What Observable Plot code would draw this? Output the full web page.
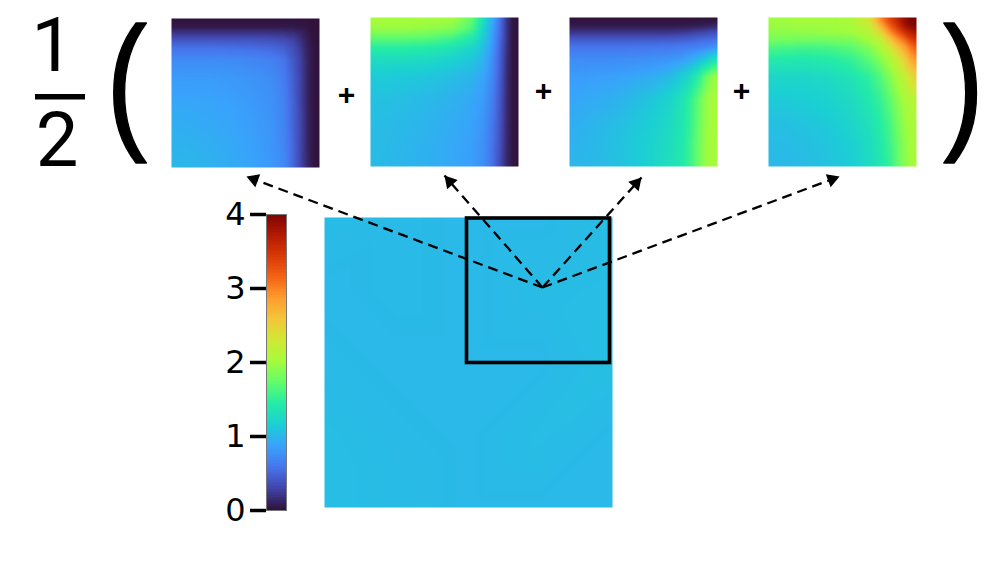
<!DOCTYPE html>
<html>
<head>
<meta charset="utf-8">
<script src="https://cdn.jsdelivr.net/npm/d3@7"></script>
<script src="https://cdn.jsdelivr.net/npm/@observablehq/plot@0.6"></script>
<style>
html,body{margin:0;padding:0;background:#fff;}
#page{position:relative;width:997px;height:565px;overflow:hidden;}
#page svg{position:absolute;display:block;overflow:visible;}
</style>
</head>
<body>
<div id="page"></div>
<script>
const gridU = [0,.1,.25,.4,.55,.68,.76,.82,.87,.92,.96,1];
const gridV = [0,.03,.06,.1,.15,.2,.28,.4,.55,.7,.85,1];
const panelA = [
[0,0,0,0,0,0,0,0,0,0,0,0],
[.02,.02,.02,.02,.02,.02,.02,.02,.02,.01,0,0],
[.05,.05,.05,.05,.05,.05,.05,.05,.04,.02,0,0],
[.2,.2,.2,.2,.2,.2,.19,.17,.12,.05,0,0],
[.4,.4,.4,.4,.39,.37,.34,.28,.18,.07,.01,0],
[.56,.56,.56,.55,.53,.5,.45,.35,.23,.09,.02,0],
[.72,.72,.72,.71,.69,.65,.57,.41,.27,.1,.02,0],
[.82,.82,.82,.8,.77,.72,.62,.45,.28,.1,.02,0],
[.88,.88,.87,.85,.8,.75,.65,.47,.28,.1,.02,0],
[.93,.92,.9,.88,.83,.77,.66,.48,.3,.1,.02,0],
[.96,.96,.94,.9,.85,.78,.68,.5,.3,.1,.02,0],
[1,.98,.96,.92,.87,.8,.7,.5,.3,.12,.02,0]
];
const panelB = [
[2,2,2,2,2,1.75,1.3,.95,.6,.2,.02,0],
[2,2,2,1.98,1.95,1.7,1.28,.93,.58,.2,.02,0],
[1.97,1.97,1.97,1.95,1.9,1.65,1.24,.9,.56,.2,.02,0],
[1.85,1.85,1.85,1.82,1.75,1.52,1.18,.87,.55,.2,.02,0],
[1.65,1.65,1.65,1.62,1.52,1.36,1.12,.84,.52,.2,.02,0],
[1.45,1.45,1.45,1.42,1.35,1.22,1.05,.8,.5,.18,.02,0],
[1.27,1.27,1.27,1.24,1.18,1.1,.97,.75,.48,.16,.02,0],
[1.12,1.12,1.1,1.08,1.03,.98,.88,.7,.45,.15,.02,0],
[1.05,1.05,1.03,1,.96,.9,.82,.65,.42,.14,.02,0],
[1.03,1.02,1,.97,.92,.87,.78,.6,.4,.14,.02,0],
[1.02,1.01,.98,.95,.9,.85,.75,.58,.38,.13,.02,0],
[1.02,1,.97,.94,.9,.84,.74,.55,.35,.12,.02,0]
];
const panelC = [
[0,0,0,0,0,0,0,0,0,0,0,0],
[.02,.02,.02,.02,.02,.02,.02,.02,.02,.03,.03,.03],
[.06,.06,.06,.06,.06,.06,.06,.07,.08,.1,.12,.14],
[.2,.2,.2,.2,.2,.2,.22,.24,.28,.3,.34,.36],
[.42,.42,.42,.42,.42,.43,.45,.47,.5,.52,.54,.55],
[.58,.58,.58,.58,.59,.6,.62,.64,.66,.7,.75,.8],
[.72,.72,.72,.73,.75,.78,.82,.9,1,1.12,1.24,1.35],
[.82,.83,.85,.88,.93,1.02,1.15,1.28,1.45,1.72,1.9,1.98],
[.88,.9,.93,1,1.08,1.2,1.33,1.5,1.7,1.92,2,2],
[.93,.95,1,1.06,1.14,1.25,1.36,1.52,1.72,1.93,2,2],
[.96,.98,1.03,1.09,1.18,1.28,1.38,1.55,1.75,1.95,2,2.02],
[1,1,1.02,1.08,1.18,1.3,1.4,1.55,1.75,1.95,2,2.02]
];
const panelD = [
[1.98,1.98,2,2,2.02,2.3,2.95,3.35,3.6,3.85,4,4],
[1.98,1.98,2,2,2.02,2.28,2.9,3.3,3.55,3.85,3.98,4],
[1.95,1.95,1.97,1.98,2,2.2,2.7,3.15,3.45,3.75,3.9,3.95],
[1.9,1.9,1.92,1.95,1.98,2.12,2.45,2.9,3.2,3.5,3.65,3.75],
[1.8,1.8,1.78,1.78,1.82,2,2.2,2.55,2.85,3.1,3.35,3.5],
[1.62,1.6,1.58,1.6,1.68,1.85,2.05,2.3,2.55,2.8,3.05,3.2],
[1.42,1.4,1.38,1.42,1.5,1.68,1.88,2.05,2.25,2.5,2.75,2.9],
[1.22,1.22,1.22,1.25,1.33,1.48,1.65,1.85,2.02,2.18,2.35,2.48],
[1.12,1.12,1.14,1.18,1.25,1.38,1.52,1.7,1.88,2.02,2.08,2.12],
[1.05,1.05,1.08,1.12,1.2,1.32,1.45,1.6,1.78,1.95,2.02,2.05],
[1.02,1.02,1.04,1.08,1.15,1.27,1.4,1.55,1.72,1.9,2,2.02],
[1,1,1.02,1.06,1.13,1.25,1.38,1.5,1.7,1.88,1.98,2.02]
];
const mainU = [0,.25,.5,.75,1];
const mainV = [0,.25,.5,.75,1];
const panelMain = [
[1.02,1.01,1.0,1.0,1.03],
[1.0,1.01,1.0,1.02,1.03],
[1.01,1.0,1.0,1.0,1.04],
[1.03,1.01,1.0,1.03,1.0],
[1.03,1.02,1.0,1.0,1.0]
];
const colorTicks = [0,1,2,3,4];
const turboColors = ["#30123b","#4145ab","#4675ed","#39a2fc","#1bcfd4","#24eca6","#61fc6c","#a4fc3b","#d1e834","#f3c63a","#fe9b2d","#f36315","#d93806","#b11901","#7a0403"];
const colorRamp = [];
for (let k = 0; k < 200; k++) colorRamp.push(k/50);

const smallPanels = [
  {values: panelA, left: 170.5, top: 18, w: 148, h: 149},
  {values: panelB, left: 370, top: 17, w: 148, h: 149},
  {values: panelC, left: 568.5, top: 17, w: 148, h: 149},
  {values: panelD, left: 767.5, top: 17, w: 148, h: 149}
];
const mainPanel = {values: panelMain, left: 323.5, top: 217, w: 288, h: 290};

const arrowOrigin = [542, 287];
const arrowTips = [[246,176],[444,175],[641,177],[839,176]];
const headBack = 8;
const zoomBox = {x1: 466.5, x2: 609.5, y1: 218, y2: 362.5};
const fractionBar = {x1: 35, x2: 85, y1: 94, y2: 99.5};
const digits = [{t:"1", x:52, y:46.5},{t:"2", x:56.5, y:141}];
const parens = [{t:"(", x:126, y:83},{t:")", x:963, y:83}];
const pluses = [{x:346,y:95},{x:543,y:91},{x:741,y:91}];

const page = document.getElementById("page");
const colorOpt = {type:"linear", domain: turboColors.map((c,i) => i/(turboColors.length-1)*4), range: turboColors};
const place = (svg, left, top) => { svg.style.left = left+"px"; svg.style.top = top+"px"; page.appendChild(svg); };

function heat(p, us, vs) {
  const pts = [];
  vs.forEach((v,j) => us.forEach((u,i) => pts.push({u, v, value: p.values[j][i]})));
  const svg = Plot.plot({
    width: p.w, height: p.h, margin: 0,
    style: {background:"transparent"},
    x: {domain:[0,1], axis:null},
    y: {domain:[0,1], reverse:true, axis:null},
    color: colorOpt,
    marks: [Plot.raster(pts, {x:"u", y:"v", fill:"value", interpolate:"barycentric", pixelSize:1})]
  });
  place(svg, p.left, p.top);
}
heat(mainPanel, mainU, mainV);
smallPanels.forEach(p => heat(p, gridU, gridV));

// colour bar
place(Plot.plot({
  width: 100, height: 340,
  marginLeft: 66, marginRight: 14, marginTop: 24, marginBottom: 20,
  style: {background:"transparent", color:"#000"},
  x: {domain:[0,1], axis:null},
  y: {domain:[0,4], axis:null},
  color: colorOpt,
  marks: [
    Plot.rect(colorRamp, {x1:0, x2:1, y1:d=>d, y2:d=>d+0.024, fill:d=>d, shapeRendering:"crispEdges"}),
    Plot.frame({stroke:"#777", strokeWidth:1}),
    Plot.ruleY(colorTicks, {x1:-0.8, x2:0, stroke:"#000", strokeWidth:3.5}),
    Plot.text(colorTicks, {x:0, y:d=>d, text:d=>String(d), dx:-21, textAnchor:"end", fontFamily:"DejaVu Sans", fontSize:32, fill:"#000"})
  ]
}), 199.5, 190);

// overlay: annotations
const links = arrowTips.map(([x,y]) => ({x1:arrowOrigin[0], y1:arrowOrigin[1], x2:x, y2:y}));
const heads = arrowTips.map(([x,y]) => {
  const dx = x-arrowOrigin[0], dy = y-arrowOrigin[1], L = Math.hypot(dx,dy);
  return {x:x-headBack*dx/L, y:y-headBack*dy/L, a:Math.atan2(dx,-dy)*180/Math.PI};
});
const narrowParen = (index, scales, values, dims, ctx, next) => {
  const g = next(index, scales, values, dims, ctx);
  g.querySelectorAll("text").forEach(t => t.setAttribute("transform", (t.getAttribute("transform")||"") + " scale(0.82,1)"));
  return g;
};
place(Plot.plot({
  width: 997, height: 565, margin: 0,
  style: {background:"transparent"},
  x: {domain:[0,997], axis:null},
  y: {domain:[0,565], reverse:true, axis:null},
  marks: [
    Plot.rect([zoomBox], {x1:"x1", x2:"x2", y1:"y1", y2:"y2", fill:"none", stroke:"#000", strokeWidth:3.6}),
    Plot.link(links, {x1:"x1", y1:"y1", x2:"x2", y2:"y2", stroke:"#000", strokeWidth:2.3, strokeDasharray:"10,6"}),
    Plot.dot(heads, {x:"x", y:"y", symbol:"triangle", r:5.2, fill:"#000", stroke:"none", rotate:"a"}),
    Plot.rect([fractionBar], {x1:"x1", x2:"x2", y1:"y1", y2:"y2", fill:"#000"}),
    Plot.text(digits, {x:"x", y:"y", text:"t", fontFamily:"Roboto", fontSize:76, fill:"#000"}),
    Plot.text(parens, {x:"x", y:"y", text:"t", fontFamily:"Liberation Sans", fontSize:151, fill:"#000", stroke:"#000", strokeWidth:1.5, render:narrowParen}),
    Plot.text(pluses, {x:"x", y:"y", text:()=>"+", fontFamily:"Liberation Sans", fontWeight:"bold", fontSize:30, fill:"#000"})
  ]
}), 0, 0);
</script>
</body>
</html>
